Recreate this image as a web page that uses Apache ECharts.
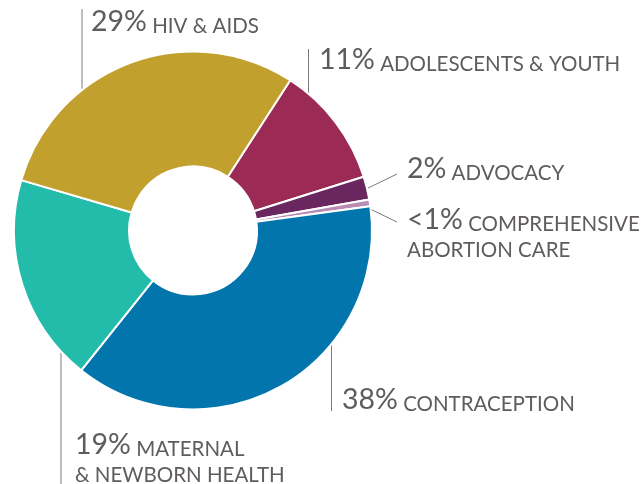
<!DOCTYPE html>
<html>
<head>
<meta charset="utf-8">
<script src="https://cdn.jsdelivr.net/npm/echarts@6/dist/echarts.min.js"></script>
<style>
  html, body { margin: 0; padding: 0; background: #ffffff; }
  #chart { width: 644px; height: 484px; }
</style>
</head>
<body>
<div id="chart"></div>
<script>
// ---- data ----
var categories = ['ADOLESCENTS & YOUTH', 'ADVOCACY', 'COMPREHENSIVE ABORTION CARE', 'CONTRACEPTION', 'MATERNAL & NEWBORN HEALTH', 'HIV & AIDS'];
var values = [11, 2.1, 0.6, 37.9, 18.8, 29.6];
var percentLabels = ['11%', '2%', '<1%', '38%', '19%', '29%'];
var labelLine1 = ['ADOLESCENTS & YOUTH', 'ADVOCACY', 'COMPREHENSIVE', 'CONTRACEPTION', 'MATERNAL', 'HIV & AIDS'];
var labelLine2 = ['', '', 'ABORTION CARE', '', '& NEWBORN HEALTH', ''];

// ---- styles / layout (not data) ----
var colors = ['#9B2A55', '#6A265E', '#B88CB3', '#0276AC', '#23BCAA', '#C1A02E'];
// label anchor: left x, first-line baseline y; leader line points
var labelLayoutTable = [
  { x: 319, base: 69,  line: [[308.5, 142], [308.5, 49], [308.5, 49]] },
  { x: 407, base: 178, line: [[362, 191], [397, 174], [397, 174]] },
  { x: 407, base: 229, line: [[362, 205], [397, 222], [397, 222]] },
  { x: 342, base: 409, line: [[331.5, 298], [331.5, 411], [331.5, 411]] },
  { x: 75,  base: 454, line: [[61, 321], [61, 484], [61, 484]] },
  { x: 91,  base: 31,  line: [[82, 127], [82, 9], [82, 9]] }
];

var chart = echarts.init(document.getElementById('chart'), null, { renderer: 'canvas' });

var seriesData = categories.map(function (c, i) {
  var txt = '{p|' + percentLabels[i] + '}{c| ' + labelLine1[i] + '}';
  if (labelLine2[i]) txt += '\n{c2|' + labelLine2[i] + '}';
  return {
    name: c,
    value: values[i],
    itemStyle: { color: colors[i] },
    label: { formatter: txt }
  };
});

chart.setOption({
  animation: false,
  backgroundColor: '#ffffff',
  series: [{
    type: 'pie',
    center: [193, 230.5],
    radius: [64, 179],
    startAngle: 57.1,
    clockwise: true,
    avoidLabelOverlap: false,
    silent: true,
    itemStyle: { borderColor: '#ffffff', borderWidth: 2 },
    label: {
      show: true,
      position: 'outside',
      fontFamily: 'Lato',
      color: '#5f5b5e',
      rich: {
        p: { fontFamily: 'Lato', fontSize: 28.5, color: '#5f5b5e', lineHeight: 31, verticalAlign: 'bottom' },
        c: { fontFamily: 'Lato', fontSize: 20.5, color: '#5f5b5e', lineHeight: 31, verticalAlign: 'bottom' },
        c2: { fontFamily: 'Lato', fontSize: 20.5, color: '#5f5b5e', lineHeight: 26.5, verticalAlign: 'bottom' }
      }
    },
    labelLine: { show: true, lineStyle: { color: '#7a7a7a', width: 1 } },
    labelLayout: function (params) {
      var L = labelLayoutTable[params.dataIndex];
      return {
        x: L.x,
        y: L.base - 25.3,
        align: 'left',
        verticalAlign: 'top',
        labelLinePoints: L.line
      };
    },
    data: seriesData
  }]
});
</script>
</body>
</html>
